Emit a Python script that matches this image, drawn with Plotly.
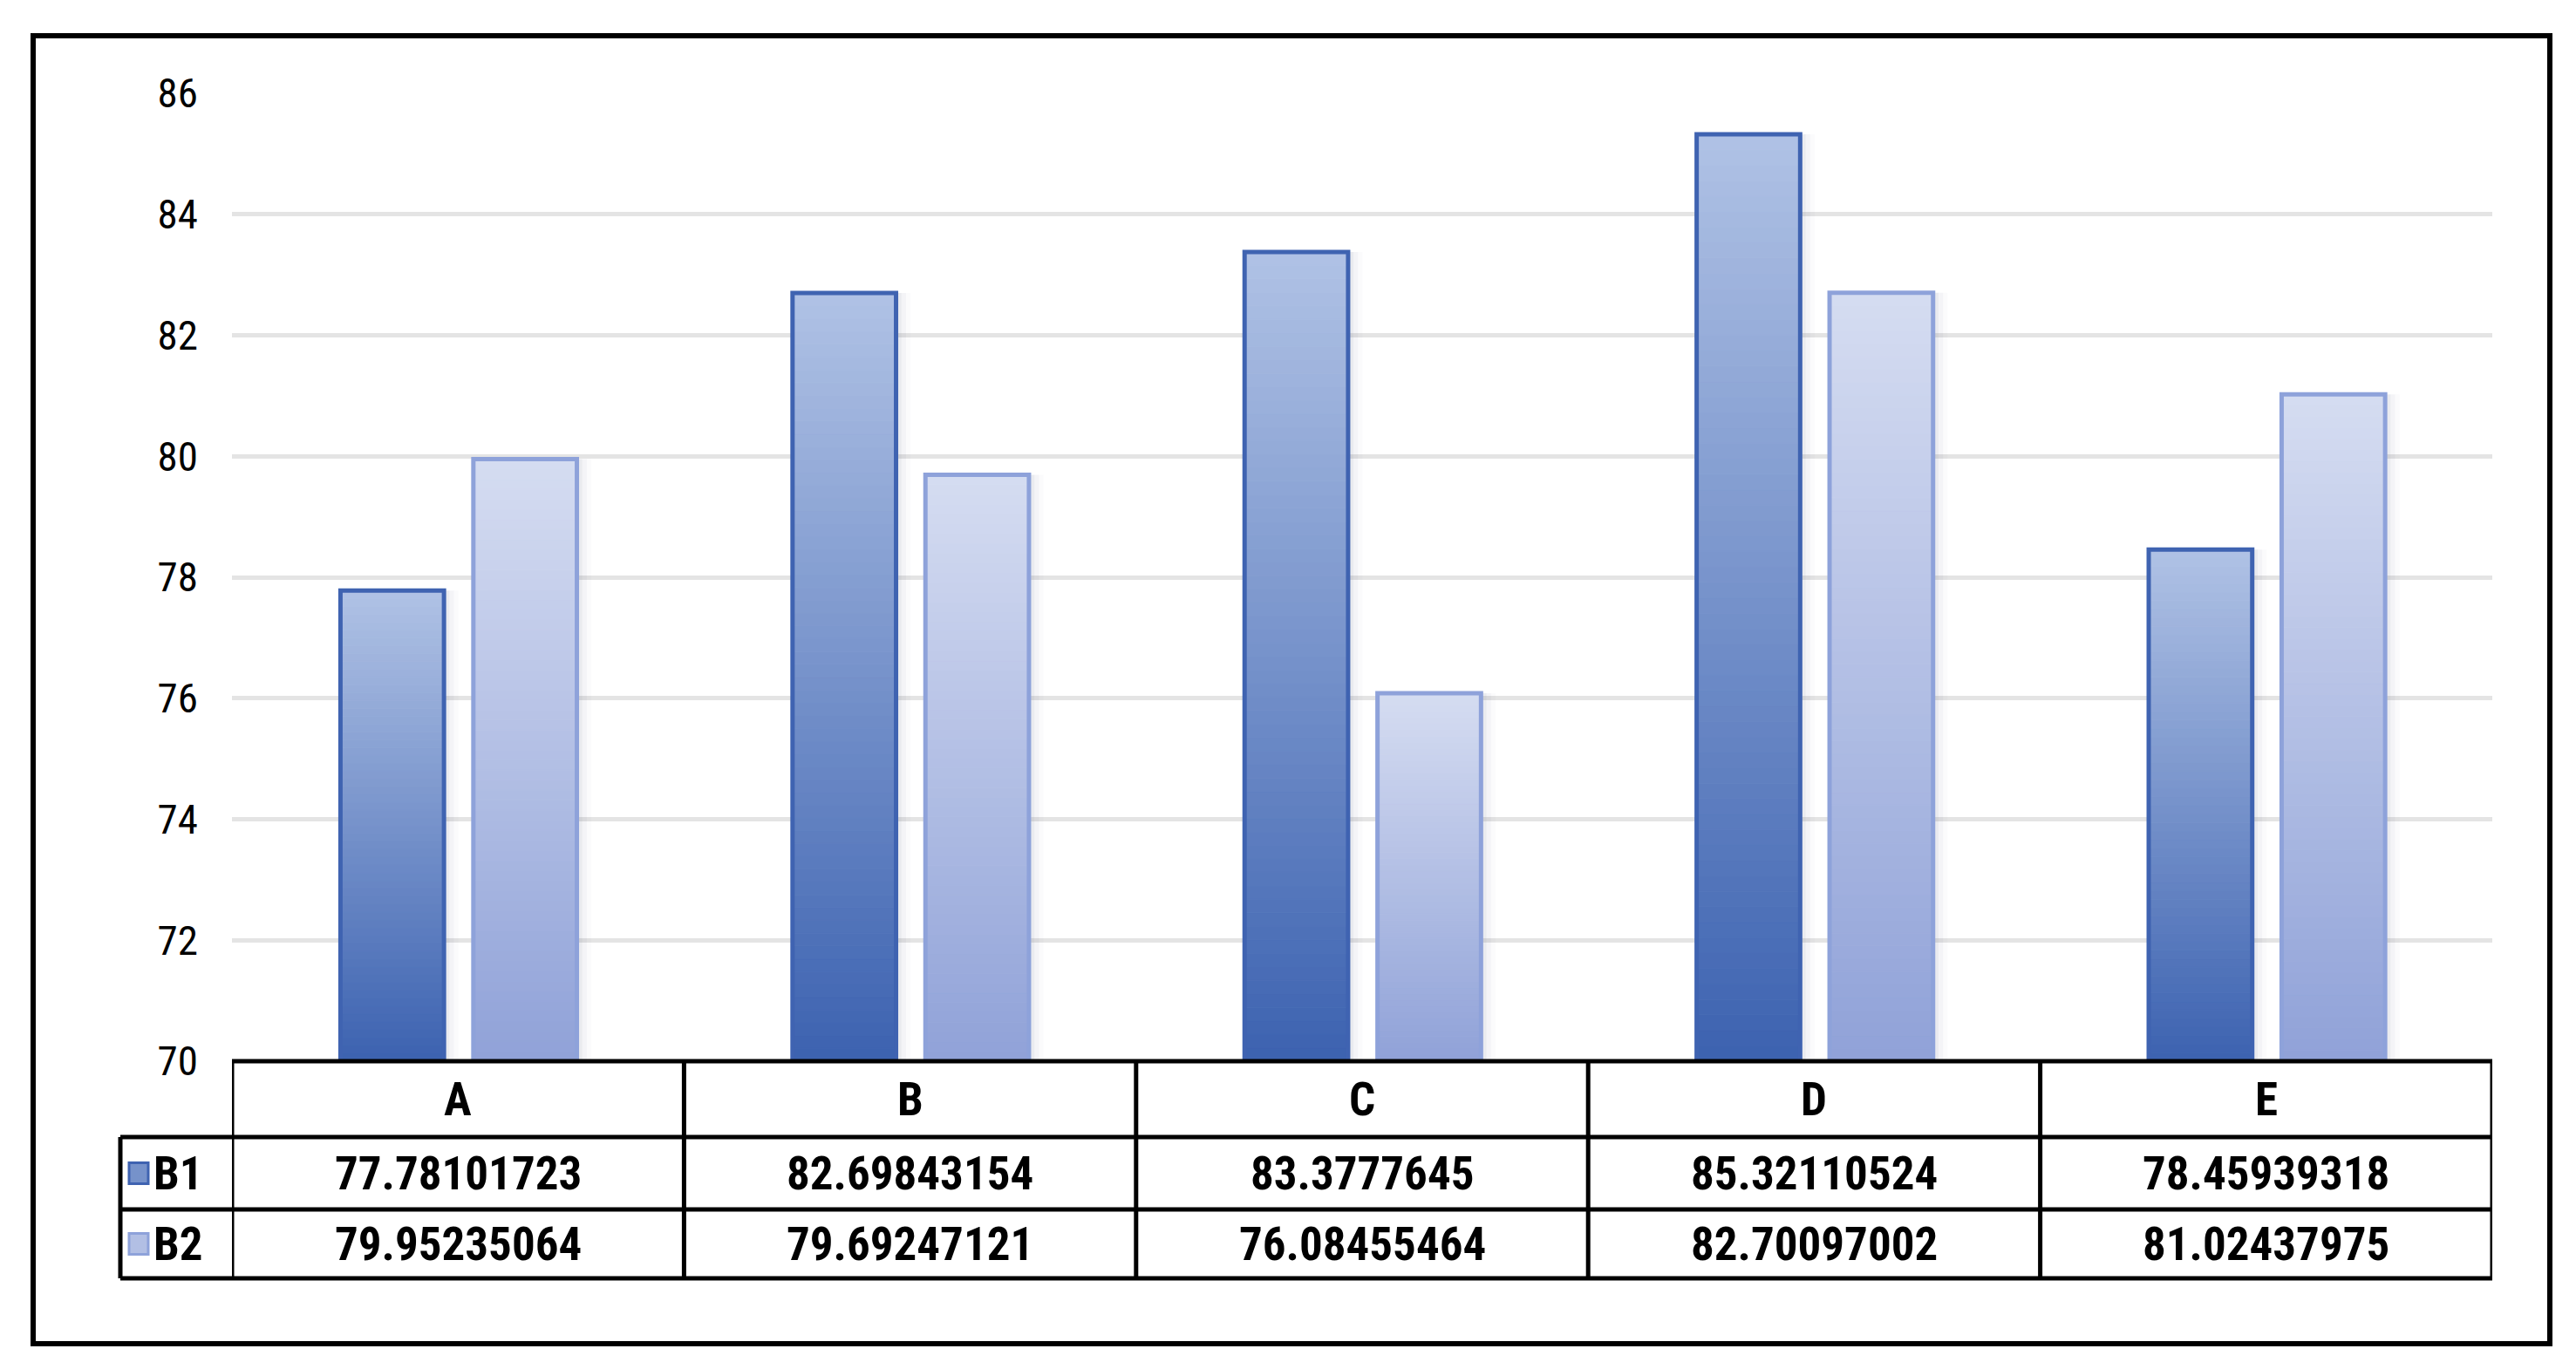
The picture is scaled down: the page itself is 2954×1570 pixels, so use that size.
import plotly.graph_objects as go

categories = ["A", "B", "C", "D", "E"]
series_names = ["B1", "B2"]
b1_values = [77.78101723, 82.69843154, 83.3777645, 85.32110524, 78.45939318]
b2_values = [79.95235064, 79.69247121, 76.08455464, 82.70097002, 81.02437975]
b1_labels = ["77.78101723", "82.69843154", "83.3777645", "85.32110524", "78.45939318"]
b2_labels = ["79.95235064", "79.69247121", "76.08455464", "82.70097002", "81.02437975"]
y_ticks = [70, 72, 74, 76, 78, 80, 82, 84, 86]

W, H = 2954, 1570
L, R, T, B = 266, 96, 107, 353
PW, PH = W - L - R, H - T - B
BASE = 70
FONT = "Liberation Sans Narrow, Roboto Condensed, Arial Narrow, Liberation Sans, sans-serif"


def px2px(x):
    return (x - L) / PW


def py2py(y):
    return (H - B - y) / PH


def lerp(c1, c2, t):
    return "rgb(%d,%d,%d)" % tuple(round(a + (b - a) * t) for a, b in zip(c1, c2))


styles = {
    "B1": dict(bottom=(60, 98, 176), top=(176, 194, 229), line="#3f63b1", offset=-0.260),
    "B2": dict(bottom=(144, 162, 216), top=(213, 220, 241), line="#8ea2da", offset=0.034),
}
BAR_W = 0.229
N = 60
x_idx = list(range(len(categories)))

fig = go.Figure()
for name, vals in zip(series_names, [b1_values, b2_values]):
    st = styles[name]
    # soft shadow
    for j, (dx, a) in enumerate([(0.012, 0.05), (0.022, 0.035), (0.032, 0.02)]):
        fig.add_trace(go.Bar(
            x=x_idx, y=[v - BASE for v in vals], base=[BASE] * len(vals),
            width=BAR_W, offset=st["offset"] + dx,
            marker=dict(color="rgba(60,70,100,%s)" % a, line=dict(width=0)),
            showlegend=False, hoverinfo="skip"))
    for k in range(N):
        t = (k + 0.5) / N
        col = lerp(st["bottom"], st["top"], t)
        fig.add_trace(go.Bar(
            x=x_idx,
            y=[(v - BASE) / N for v in vals],
            base=[BASE + (v - BASE) * k / N for v in vals],
            width=BAR_W, offset=st["offset"],
            marker=dict(color=col, line=dict(color=col, width=1)),
            showlegend=False, hoverinfo="skip"))
    fig.add_trace(go.Bar(
        x=x_idx, y=[v - BASE for v in vals], base=[BASE] * len(vals),
        width=BAR_W, offset=st["offset"], name=name,
        marker=dict(color="rgba(0,0,0,0)", line=dict(color=st["line"], width=5)),
        showlegend=False))

shapes = []
LW = 5
# table geometry (pixels)
y_head_top, y_head_bot, y_b1_bot, y_b2_bot = 1217, 1304, 1387, 1466
x_leg_left = 138
# horizontal lines
shapes.append(dict(type="line", xref="paper", yref="paper", x0=0, x1=1,
                   y0=py2py(y_head_top), y1=py2py(y_head_top), line=dict(color="black", width=LW)))
for yy in [y_head_bot, y_b1_bot, y_b2_bot]:
    shapes.append(dict(type="line", xref="paper", yref="paper", x0=px2px(x_leg_left), x1=1,
                       y0=py2py(yy), y1=py2py(yy), line=dict(color="black", width=LW)))
# vertical lines at category boundaries
for i in range(len(categories) + 1):
    xb = i - 0.5
    shapes.append(dict(type="line", xref="x", yref="paper", x0=xb, x1=xb,
                       y0=py2py(y_head_top), y1=py2py(y_b2_bot), line=dict(color="black", width=LW)))
shapes.append(dict(type="line", xref="paper", yref="paper", x0=px2px(x_leg_left), x1=px2px(x_leg_left),
                   y0=py2py(y_head_bot), y1=py2py(y_b2_bot), line=dict(color="black", width=LW)))
# outer border
shapes.append(dict(type="rect", xref="paper", yref="paper",
                   x0=px2px(38), x1=px2px(2924), y0=py2py(41), y1=py2py(1541),
                   line=dict(color="black", width=6), fillcolor="rgba(0,0,0,0)"))

annotations = []
TFS = 53
for i, c in enumerate(categories):
    annotations.append(dict(x=i, y=py2py((y_head_top + y_head_bot) / 2), xref="x", yref="paper",
                            xanchor="center", yanchor="middle",
                            text="<b>%s</b>" % c, showarrow=False, font=dict(size=TFS, color="black", family=FONT)))
rows = [(b1_labels, (y_head_bot + y_b1_bot) / 2, "B1"), (b2_labels, (y_b1_bot + y_b2_bot) / 2, "B2")]
for labels, yc, nm in rows:
    for i, lab in enumerate(labels):
        annotations.append(dict(x=i, y=py2py(yc), xref="x", yref="paper",
                                xanchor="center", yanchor="middle",
                                text="<b>%s</b>" % lab, showarrow=False,
                                font=dict(size=TFS, color="black", family=FONT)))
    annotations.append(dict(x=px2px(174), y=py2py(yc), xref="paper", yref="paper",
                            xanchor="left", yanchor="middle",
                            text="<b>%s</b>" % nm, showarrow=False,
                            font=dict(size=TFS, color="black", family=FONT)))
    st = styles[nm]
    # legend key
    shapes.append(dict(type="rect", xref="paper", yref="paper",
                       x0=px2px(148), x1=px2px(170), y0=py2py(yc + 12), y1=py2py(yc - 12),
                       fillcolor=lerp(st["bottom"], st["top"], 0.5), line=dict(color=st["line"], width=3)))

fig.update_layout(
    width=W, height=H,
    margin=dict(l=L, r=R, t=T, b=B),
    paper_bgcolor="white", plot_bgcolor="white",
    barmode="overlay",
    showlegend=False,
    xaxis=dict(range=[-0.5, 4.5], showticklabels=False, showgrid=False, zeroline=False,
               tickvals=x_idx, ticktext=categories, showline=False),
    yaxis=dict(range=[70, 86], tickvals=y_ticks, showgrid=True, gridcolor="#e4e4e4", gridwidth=5,
               zeroline=False, showline=False, ticklabelstandoff=38,
               tickfont=dict(size=47, color="black", family=FONT)),
    shapes=shapes,
    annotations=annotations,
)
fig.write_html("out.html", config={"displayModeBar": False},
               post_script="document.body.style.margin='0px';document.body.style.overflow='hidden';")
